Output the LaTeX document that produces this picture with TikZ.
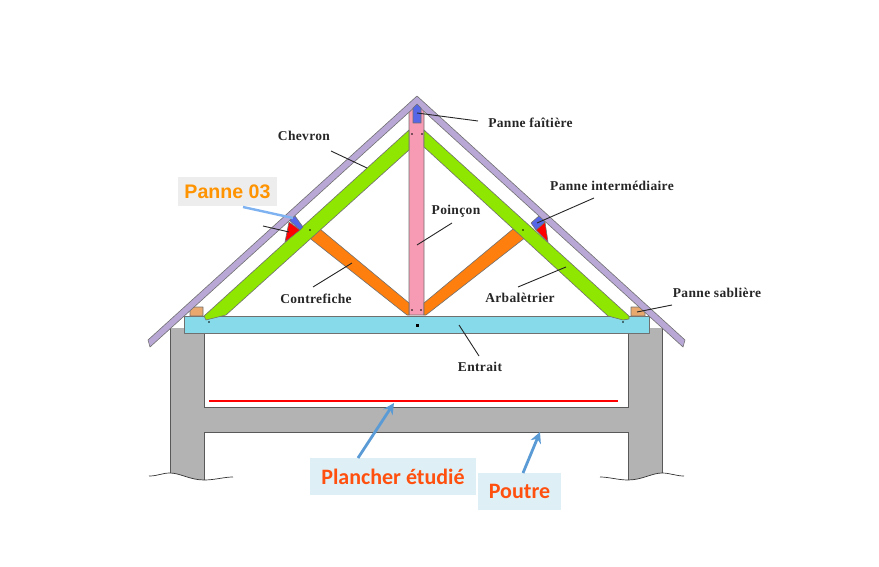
\documentclass[tikz,border=0pt]{standalone}
\usepackage{fontspec}
\setmainfont{Liberation Serif}
\newfontfamily\calloutfont{Carlito}
\newfontfamily\pannefont{Liberation Sans}
\newfontfamily\labelfont[LetterSpace=2.5]{Liberation Serif}
\usetikzlibrary{arrows.meta}
\definecolor{wallgray}{HTML}{B3B3B3}
\definecolor{beamcyan}{HTML}{86DAEA}
\definecolor{roofpurple}{HTML}{B9A8D6}
\definecolor{beamgreen}{HTML}{8FE600}
\definecolor{strutorange}{HTML}{FF7F0E}
\definecolor{postpink}{HTML}{F79AB4}
\definecolor{purlinblue}{HTML}{5566E6}
\definecolor{plateTan}{HTML}{E8A86E}
\definecolor{arrowblue}{HTML}{5B9BD5}
\definecolor{lightarrow}{HTML}{7FB2F0}
\definecolor{calloutbg}{HTML}{DEF0F6}
\definecolor{calloutred}{HTML}{FF5010}
\definecolor{edgegray}{HTML}{707070}
\tikzset{
  lbl/.style={font=\labelfont\fontsize{13.5}{15}\selectfont\bfseries, text=black!85, inner sep=0pt},
  leader/.style={draw=black!85, line width=0.9pt},
  part/.style={draw=edgegray, line width=0.6pt, line join=round},
  wall/.style={draw=black!65, line width=0.9pt},
  pin/.style={fill=black, inner sep=0pt, minimum size=1.7pt, circle},
  callout/.style={fill=calloutbg, text=calloutred, font=\calloutfont\fontsize{22}{24}\selectfont\bfseries, inner sep=0pt, anchor=center},
  bluearrow/.style={draw=arrowblue, line width=2.8pt, -{Stealth[length=11pt,width=11pt]}},
}
\begin{document}
\begin{tikzpicture}[x=1pt,y=-1pt]
\useasboundingbox (0,0) rectangle (879,567);
% masonry
\fill[wallgray] (170,328) -- (170,473) .. controls (180,473) and (190,480) .. (204,480) -- (204,432) -- (628,432) -- (628,480) .. controls (642,480) and (652,473) .. (662,473) -- (662,328) -- (628,328) -- (628,407) -- (204,407) -- (204,328) -- cycle;
\draw[wall] (170,328) -- (170,473);
\draw[wall] (204,328) -- (204,407) -- (628,407) -- (628,328);
\draw[wall] (204,480) -- (204,432) -- (628,432) -- (628,480);
\draw[wall] (662,328) -- (662,473);
\draw[line width=0.7pt, black!80] (149,476) .. controls (158,476) and (162,473) .. (170,473) .. controls (180,473) and (190,480) .. (204,480) .. controls (215,480) and (224,477) .. (233,477);
\draw[line width=0.7pt, black!80] (600,477) .. controls (609,477) and (618,480) .. (628,480) .. controls (642,480) and (652,473) .. (662,473) .. controls (670,473) and (676,476) .. (684,476);
% tie beam
\draw[part, fill=beamcyan] (184,316) rectangle (649,333);
% wall plates
\draw[part, fill=plateTan] (190,316) -- (190,310) -- (193,307) -- (203,307) -- (203,316) -- cycle;
\draw[part, fill=plateTan] (631,316) -- (631,307) -- (642,307) -- (645,310) -- (645,316) -- cycle;
% king post
\draw[part, fill=postpink] (409,315) -- (409,110) -- (417,104) -- (424,110) -- (424,315) -- cycle;
% struts
\draw[part, fill=strutorange] (320,229) -- (409,303) -- (409,315) -- (407,315) -- (307,236) -- cycle;
\draw[part, fill=strutorange] (424,303) -- (513,229) -- (526,237) -- (426,315) -- (424,315) -- cycle;
% principal rafters
\draw[part, fill=beamgreen] (409,130) -- (409,150) -- (226,315) -- (206,320) -- (204,316) -- cycle;
\draw[part, fill=beamgreen] (424,130) -- (424,147) -- (608,316) -- (623,320) -- (629,319) -- (629,316) -- cycle;
% purlins
\draw[part, fill=red] (289,222) -- (300,230) -- (285,242) -- cycle;
\draw[part, fill=purlinblue] (288,219) -- (295,216) -- (303,227) -- (300,230) -- cycle;
\draw[part, fill=red] (536,230) -- (545,222) -- (548,242) -- cycle;
\draw[part, fill=purlinblue] (531,223) -- (540,215) -- (545,222) -- (536,230) -- cycle;
% rafters
\draw[part, fill=roofpurple] (417,96) -- (685,340) -- (683,347) -- (417,105) -- (150,347) -- (148,340) -- cycle;
% ridge purlin
\draw[part, fill=purlinblue] (413,108) -- (417,104) -- (421,108) -- (421,123) -- (413,123) -- cycle;
% pins
\foreach \i/\p in {a/{310,230},b/{209,322},c/{412,134},d/{422,134},e/{523,230},f/{623,322},g/{412,310},h/{421,310}}
  \node[pin] (pin\i) at (\p) {};
\node[pin, minimum size=3pt, rectangle] (pinm) at (417,325) {};
% floor
\coordinate (floorL) at (209,401);
\coordinate (floorR) at (618,401);
\draw[red, line width=2.6pt] (floorL) -- (floorR);
% labels
\node[lbl] (chevron) at (304,136) {Chevron};
\node[lbl] (faitiere) at (530.5,122.5) {Panne faîtière};
\node[lbl] (poincon) at (456,211) {Poinçon};
\node[lbl] (intermediaire) at (612,186) {Panne intermédiaire};
\node[lbl] (sabliere) at (717,293) {Panne sablière};
\node[lbl] (contrefiche) at (316,299) {Contrefiche};
\node[lbl] (arbaletrier) at (520,298) {Arbalètrier};
\node[lbl] (entrait) at (480,367) {Entrait};
% leader ends
\coordinate (chevronA) at (331,151);
\coordinate (chevronB) at (367,168);
\coordinate (faitA) at (478,121);
\coordinate (faitB) at (417,113);
\coordinate (poinA) at (452,223);
\coordinate (poinB) at (417,245);
\coordinate (interA) at (594,198);
\coordinate (interB) at (537,223);
\coordinate (sabA) at (672,305);
\coordinate (sabB) at (637,312);
\coordinate (contA) at (313,287);
\coordinate (contB) at (352,263);
\coordinate (arbaA) at (518,287);
\coordinate (arbaB) at (566,267);
\coordinate (entA) at (459,325);
\coordinate (entB) at (479,356);
\coordinate (p3A) at (263,226);
\coordinate (p3B) at (289,232);
\draw[leader] (chevronA) -- (chevronB);
\draw[leader] (faitA) -- (faitB);
\draw[leader] (poinA) -- (poinB);
\draw[leader] (interA) -- (interB);
\draw[leader] (sabA) -- (sabB);
\draw[leader] (contA) -- (contB);
\draw[leader] (arbaA) -- (arbaB);
\draw[leader] (entA) -- (entB);
\draw[leader] (p3A) -- (p3B);
% callouts
\node[fill=black!7, text=orange!85!yellow, font=\pannefont\fontsize{19.6}{22}\selectfont\bfseries, inner sep=0pt, minimum width=99pt, minimum height=29pt] (panne) at (227.5,191.5) {Panne 03};
\coordinate (panneA) at (243,207);
\coordinate (panneB) at (293,218);
\draw[lightarrow, line width=2.4pt] (panneA) -- (panneB);
\node[callout, minimum width=166pt, minimum height=37pt] (plancher) at (393,476.5) {\raisebox{-3pt}{Plancher étudié}};
\node[callout, minimum width=83pt, minimum height=37pt] (poutre) at (519.5,491.5) {\raisebox{-3pt}{Poutre}};
\coordinate (plA) at (358,458);
\coordinate (plB) at (394,403);
\coordinate (poA) at (523,473);
\coordinate (poB) at (540,432);
\draw[bluearrow] (plA) -- (plB);
\draw[bluearrow] (poA) -- (poB);
\end{tikzpicture}
\end{document}
